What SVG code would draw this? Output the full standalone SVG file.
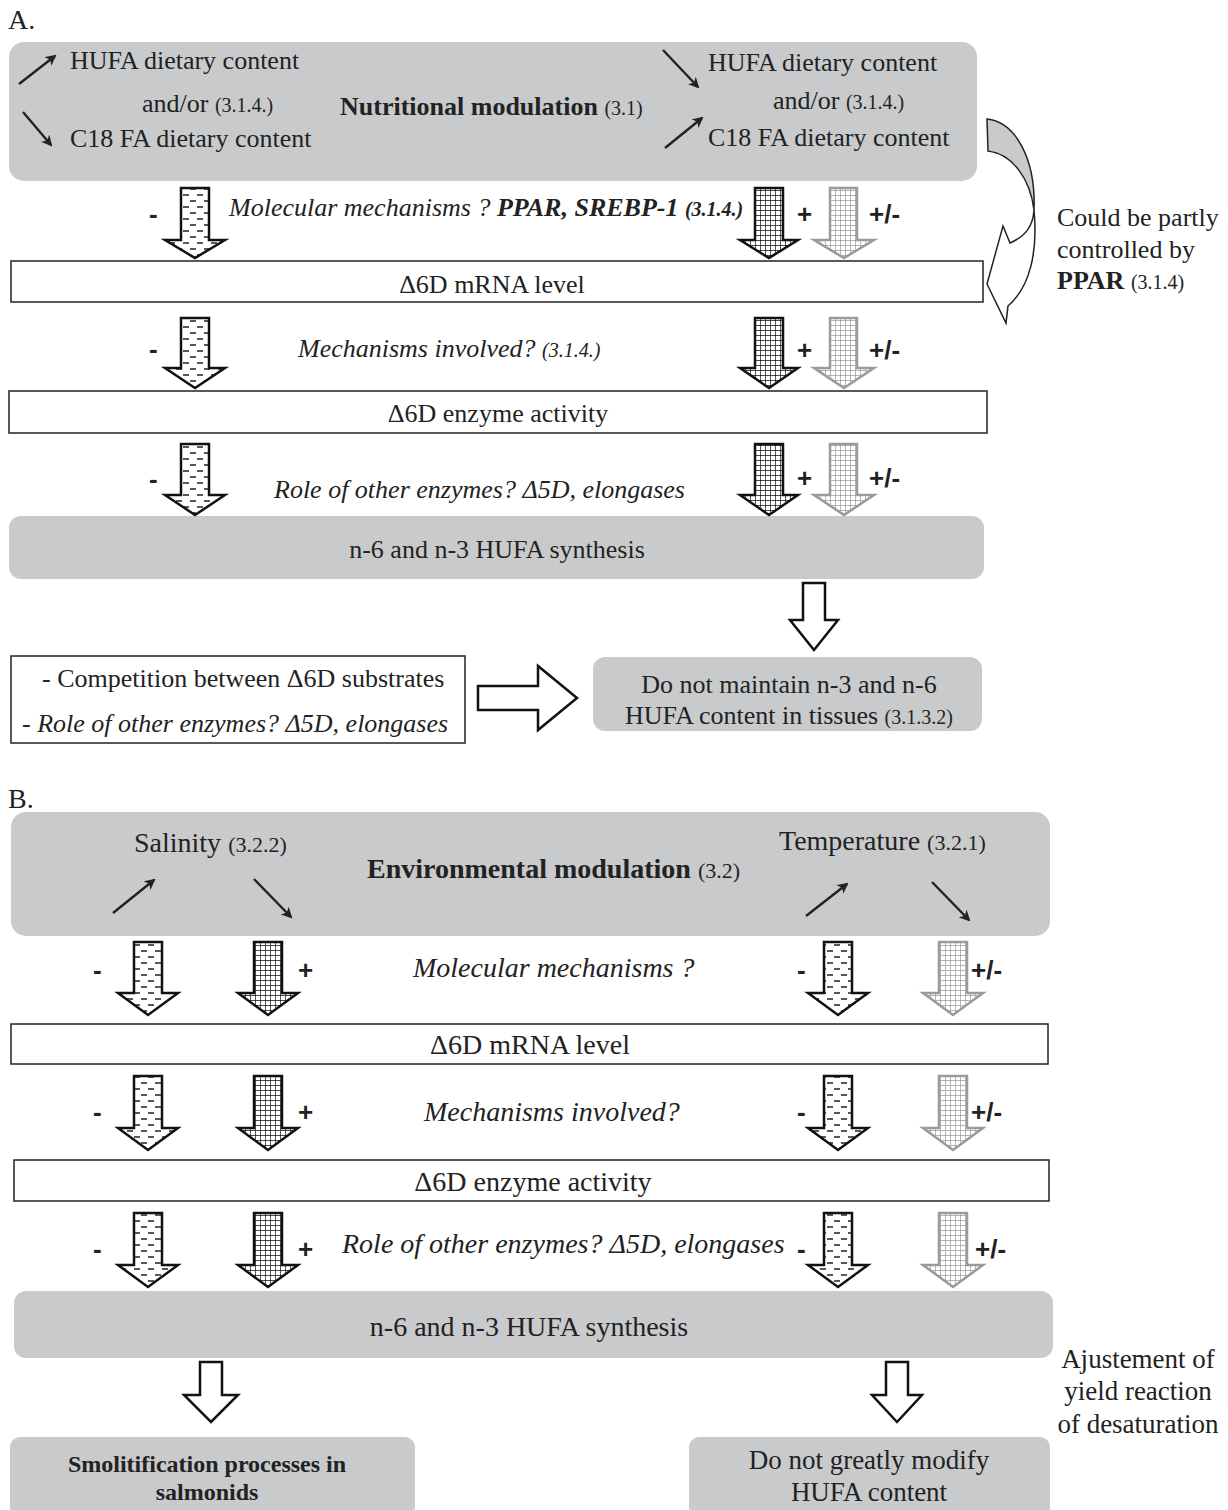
<svg xmlns="http://www.w3.org/2000/svg" width="1228" height="1510" viewBox="0 0 1228 1510">
<style>
text{font-family:"Liberation Serif","Times New Roman",serif;fill:#222;}
.t{font-size:26px;}
.tb{font-size:28px;}
.s{font-size:20px;}
.sb{font-size:22px;}
.i{font-style:italic;}
.b{font-weight:bold;}
.n{font-weight:normal;}
.c{text-anchor:middle;}
.sg{font-family:"Liberation Sans",Arial,sans-serif;font-weight:bold;font-size:26px;fill:#222;}
.gbox{fill:#c9cacc;stroke:none;}
.wbox{fill:#fff;stroke:#222;stroke-width:1.5;}
.thin{stroke:#222;stroke-width:2.4;fill:none;marker-end:url(#ah);}
.neg{fill:url(#dash);stroke:#111;stroke-width:2.5;}
.pos{fill:url(#gridD);stroke:#111;stroke-width:2.5;}
.mix{fill:url(#gridL);stroke:#9a9a9a;stroke-width:2.5;}
.hol{fill:#fff;stroke:#111;stroke-width:2.5;}
</style>
<defs>
<marker id="ah" markerWidth="11" markerHeight="11" refX="9" refY="5.5" orient="auto" markerUnits="userSpaceOnUse"><path d="M0,0 L11,5.5 L0,11 L3,5.5 Z" fill="#222"/></marker>
<pattern id="dash" patternUnits="userSpaceOnUse" width="14" height="12"><rect width="14" height="12" fill="#fff"/><path d="M1,3 H7 M8,9 H14" stroke="#222" stroke-width="1.3"/></pattern>
<pattern id="gridD" patternUnits="userSpaceOnUse" width="5" height="5"><rect width="5" height="5" fill="#fff"/><path d="M0,0 H5 M0,0 V5" stroke="#111" stroke-width="1.4"/></pattern>
<pattern id="gridL" patternUnits="userSpaceOnUse" width="5" height="5"><rect width="5" height="5" fill="#fff"/><path d="M0,0 H5 M0,0 V5" stroke="#9a9a9a" stroke-width="1.4"/></pattern>
</defs>

<!-- Panel A -->
<text x="8" y="29" style="font-size:28px">A.</text>

<g id="nutritional">
<rect class="gbox" x="9" y="42" width="968" height="139" rx="15"/>
<text class="t" x="70" y="69">HUFA dietary content</text>
<text class="t" x="142" y="112">and/or <tspan class="s">(3.1.4.)</tspan></text>
<text class="t" x="70" y="147">C18 FA dietary content</text>
<text class="t b" x="340" y="115">Nutritional modulation <tspan class="s n">(3.1)</tspan></text>
<text class="t" x="708" y="71">HUFA dietary content</text>
<text class="t" x="773" y="109">and/or <tspan class="s">(3.1.4.)</tspan></text>
<text class="t" x="708" y="146">C18 FA dietary content</text>
<line class="thin" x1="19" y1="84" x2="55" y2="56"/>
<line class="thin" x1="23" y1="112" x2="51" y2="145"/>
<line class="thin" x1="663" y1="50" x2="698" y2="87"/>
<line class="thin" x1="665" y1="148" x2="702" y2="118"/>
</g>

<g id="a-mrna"><rect class="wbox" x="11" y="261" width="972" height="41"/><text class="t c" x="492" y="293">Δ6D mRNA level</text></g>
<g id="a-enzyme"><rect class="wbox" x="9" y="391" width="978" height="42"/><text class="t c" x="498" y="422">Δ6D enzyme activity</text></g>
<g id="a-synth"><rect class="gbox" x="9" y="516" width="975" height="63" rx="12"/><text class="t c" x="497" y="558">n-6 and n-3 HUFA synthesis</text></g>
<g id="a-competition"><rect class="wbox" x="11" y="656" width="454" height="87"/>
<text class="t" x="42" y="687">- Competition between Δ6D substrates</text>
<text class="t" x="22" y="732">- <tspan class="i">Role of other enzymes? Δ5D, elongases</tspan></text></g>
<g id="a-maintain"><rect class="gbox" x="593" y="657" width="389" height="74" rx="12"/>
<text class="t c" x="789" y="693">Do not maintain n-3 and n-6</text>
<text class="t c" x="789" y="724">HUFA content in tissues <tspan class="s">(3.1.3.2)</tspan></text></g>
<g id="a-ppar-note">
<text class="t" x="1057" y="226">Could be partly</text>
<text class="t" x="1057" y="258">controlled by</text>
<text class="t" x="1057" y="289"><tspan class="b">PPAR</tspan> <tspan class="s">(3.1.4)</tspan></text>
</g>

<!-- Panel B -->
<text x="8" y="808" style="font-size:28px">B.</text>
<g id="environmental">
<rect class="gbox" x="11" y="812" width="1039" height="124" rx="15"/>
<text class="tb" x="134" y="852">Salinity <tspan class="sb">(3.2.2)</tspan></text>
<text class="tb b" x="367" y="878">Environmental modulation <tspan class="sb n">(3.2)</tspan></text>
<text class="tb" x="779" y="850">Temperature <tspan class="sb">(3.2.1)</tspan></text>
<line class="thin" x1="113" y1="913" x2="154" y2="880"/>
<line class="thin" x1="254" y1="879" x2="291" y2="917"/>
<line class="thin" x1="806" y1="916" x2="847" y2="884"/>
<line class="thin" x1="932" y1="882" x2="969" y2="920"/>
</g>
<g id="b-mrna"><rect class="wbox" x="11" y="1024" width="1037" height="40"/><text class="tb c" x="530" y="1054">Δ6D mRNA level</text></g>
<g id="b-enzyme"><rect class="wbox" x="14" y="1160" width="1035" height="41"/><text class="tb c" x="533" y="1191">Δ6D enzyme activity</text></g>
<g id="b-synth"><rect class="gbox" x="14" y="1291" width="1039" height="67" rx="12"/><text class="tb c" x="529" y="1336">n-6 and n-3 HUFA synthesis</text></g>
<g id="b-smolt"><rect class="gbox" x="10" y="1437" width="405" height="80" rx="10"/>
<text class="b c" style="font-size:24px" x="207" y="1472">Smolitification processes in</text>
<text class="b c" style="font-size:24px" x="207" y="1500">salmonids</text></g>
<g id="b-modify"><rect class="gbox" x="689" y="1437" width="361" height="80" rx="10"/>
<text class="c" style="font-size:27px" x="869" y="1469">Do not greatly modify</text>
<text class="c" style="font-size:27px" x="869" y="1501">HUFA content</text></g>
<g id="b-adjust">
<text class="c" style="font-size:27px" x="1138" y="1368">Ajustement of</text>
<text class="c" style="font-size:27px" x="1138" y="1400">yield reaction</text>
<text class="c" style="font-size:27px" x="1138" y="1433">of desaturation</text>
</g>

<!-- Connectors -->
<g id="connectors">
<!-- A row 1 -->
<path class="neg" d="M181,188 H209 V240 H225 L195,258 L165,240 H181 Z"/>
<path class="pos" d="M755,188 H783 V240 H798 L769,258 L740,240 H755 Z"/>
<path class="mix" d="M830,188 H857 V240 H874 L844,258 L814,240 H830 Z"/>
<text class="sg" x="149" y="223">-</text>
<text class="sg" x="797" y="223">+</text>
<text class="sg" x="869" y="223">+/-</text>
<text class="t i" x="229" y="216">Molecular mechanisms ? <tspan class="b">PPAR, SREBP-1</tspan> <tspan class="b s">(3.1.4.)</tspan></text>
<!-- A row 2 -->
<path class="neg" d="M181,318 H209 V368 H225 L195,388 L165,368 H181 Z"/>
<path class="pos" d="M755,318 H783 V368 H798 L769,388 L740,368 H755 Z"/>
<path class="mix" d="M830,318 H857 V368 H874 L844,388 L814,368 H830 Z"/>
<text class="sg" x="149" y="358">-</text>
<text class="sg" x="797" y="359">+</text>
<text class="sg" x="869" y="359">+/-</text>
<text class="t i" x="298" y="357">Mechanisms involved? <tspan class="s">(3.1.4.)</tspan></text>
<!-- A row 3 -->
<path class="neg" d="M181,444 H209 V495 H225 L195,515 L165,495 H181 Z"/>
<path class="pos" d="M755,444 H783 V495 H798 L769,515 L740,495 H755 Z"/>
<path class="mix" d="M830,444 H857 V495 H874 L844,515 L814,495 H830 Z"/>
<text class="sg" x="149" y="488">-</text>
<text class="sg" x="797" y="487">+</text>
<text class="sg" x="869" y="487">+/-</text>
<text class="t i" x="274" y="498">Role of other enzymes? Δ5D, elongases</text>
<!-- A hollow arrows -->
<path class="hol" d="M803,583 H825 V620 H838 L814,650 L790,620 H803 Z"/>
<path class="hol" d="M478,686 H538 V666 L577,698 L538,730 V710 H478 Z"/>
<!-- curved arrow -->
<path d="M987,119 C1016,122 1036,160 1034,210 C1030,178 1012,154 988,151 Z" fill="#c9cacc" stroke="#222" stroke-width="1.5"/>
<path d="M1034,210 C1038,252 1030,287 1008,306 L1006,323 L987,284 L1003,226 L1010,243 C1026,236 1033,226 1034,210 Z" fill="#fff" stroke="#222" stroke-width="1.5"/>
<!-- B row 1 -->
<path class="neg" d="M134,942 H162 V993 H178 L148,1015 L118,993 H134 Z"/>
<path class="pos" d="M254,942 H282 V993 H298 L268,1015 L238,993 H254 Z"/>
<path class="neg" d="M824,942 H852 V993 H868 L838,1015 L808,993 H824 Z"/>
<path class="mix" d="M939,942 H967 V993 H983 L953,1015 L923,993 H939 Z"/>
<text class="sg" x="93" y="979">-</text>
<text class="sg" x="298" y="979">+</text>
<text class="sg" x="797" y="979">-</text>
<text class="sg" x="971" y="979">+/-</text>
<text class="tb i" x="413" y="977">Molecular mechanisms ?</text>
<!-- B row 2 -->
<path class="neg" d="M134,1076 H162 V1128 H178 L148,1150 L118,1128 H134 Z"/>
<path class="pos" d="M254,1076 H282 V1128 H298 L268,1150 L238,1128 H254 Z"/>
<path class="neg" d="M824,1076 H852 V1128 H868 L838,1150 L808,1128 H824 Z"/>
<path class="mix" d="M939,1076 H967 V1128 H983 L953,1150 L923,1128 H939 Z"/>
<text class="sg" x="93" y="1121">-</text>
<text class="sg" x="298" y="1121">+</text>
<text class="sg" x="797" y="1121">-</text>
<text class="sg" x="971" y="1121">+/-</text>
<text class="tb i" x="424" y="1121">Mechanisms involved?</text>
<!-- B row 3 -->
<path class="neg" d="M134,1213 H162 V1265 H178 L148,1287 L118,1265 H134 Z"/>
<path class="pos" d="M254,1213 H282 V1265 H298 L268,1287 L238,1265 H254 Z"/>
<path class="neg" d="M824,1213 H852 V1265 H868 L838,1287 L808,1265 H824 Z"/>
<path class="mix" d="M939,1213 H967 V1265 H983 L953,1287 L923,1265 H939 Z"/>
<text class="sg" x="93" y="1258">-</text>
<text class="sg" x="298" y="1258">+</text>
<text class="sg" x="797" y="1258">-</text>
<text class="sg" x="975" y="1258">+/-</text>
<text class="tb i" x="342" y="1253">Role of other enzymes? Δ5D, elongases</text>
<!-- B hollow arrows -->
<path class="hol" d="M200,1362 H222 V1395 H238 L211,1422 L184,1395 H200 Z"/>
<path class="hol" d="M886,1362 H908 V1395 H922 L897,1422 L872,1395 H886 Z"/>
</g>
</svg>
